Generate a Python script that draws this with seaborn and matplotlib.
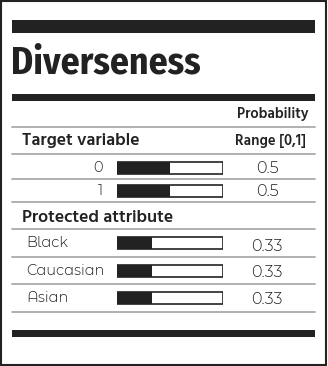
import seaborn as sns
import matplotlib.pyplot as plt
import pandas as pd
from matplotlib.patches import Rectangle

# data
title = "Diverseness"
target_labels = ["0", "1"]
target_values = [0.5, 0.5]
protected_labels = ["Black", "Caucasian", "Asian"]
protected_values = [0.33, 0.33, 0.33]

W, H = 328, 366
sns.set_style("white")
plt.rcParams['font.family'] = ['Montserrat Alternates', 'Lato', 'DejaVu Sans']
head_font = ['Hind', 'Lato', 'DejaVu Sans']
title_font = ['Fira Sans Condensed', 'Hind', 'DejaVu Sans']

fig = plt.figure(figsize=(W / 100, H / 100), dpi=100)
ax = fig.add_axes([0, 0, 1, 1])
ax.set_xlim(0, W)
ax.set_ylim(H, 0)
ax.axis('off')

# frame
ax.add_patch(Rectangle((0.8, 0.8), 325, 364, fill=False, ec='#222222', lw=1.5))

dark = '#222222'
gray = '#aaaaaa'
x0, x1 = 12, 315


def thick(y0, y1):
    ax.fill_between([x0, x1], y0, y1, color=dark, lw=0)


def thin(y):
    ax.plot([x0, x1], [y, y], color=gray, lw=1.3)


thick(20, 33)
thick(94, 101)
thick(330, 337)

ax.text(11, 63, title, fontsize=27, fontweight=700, va='center', ha='left',
        family=title_font, color=dark)

ax.text(308, 114, "Probability", fontsize=10.6, fontweight=600, ha='right', va='center',
        family=head_font, color=dark)
thin(127)
ax.text(22, 141, "Target variable", fontsize=12.8, fontweight=600, ha='left', va='center',
        family=head_font, color=dark)
ax.text(306, 141, "Range [0,1]", fontsize=10.5, fontweight=600, ha='right', va='center',
        family=head_font, color=dark)
thin(154)

bar_left, bar_w = 117, 106
lw_txt = 300

# target variable rows
t_top, t_step = 156.5, 23
for i, (lab, v) in enumerate(zip(target_labels, target_values)):
    yc = t_top + t_step * (i + 0.5)
    ax.text(103, yc, lab, fontsize=10.5, fontweight=lw_txt, ha='right', va='center', color=dark)
    ax.text(267, yc, f"{v:g}", fontsize=11.5, fontweight=lw_txt, ha='center', va='center', color=dark)
    thin(t_top + t_step * (i + 1) - 0.5)

ax.text(22, 218, "Protected attribute", fontsize=12.8, fontweight=600, ha='left', va='center',
        family=head_font, color=dark)
thin(229)

p_top, p_step = 229.5, 27.5
for i, (lab, v) in enumerate(zip(protected_labels, protected_values)):
    yc = p_top + p_step * (i + 0.5)
    ax.text(26, yc, lab, fontsize=10.5, fontweight=lw_txt, ha='left', va='center', color=dark)
    ax.text(267, yc + (3 if i == 0 else 1), f"{v:g}", fontsize=11.5, fontweight=lw_txt,
            ha='center', va='center', color=dark)
    thin(p_top + p_step * (i + 1) - 0.5)


def bars(labels, values, top, step, width):
    n = len(labels)
    bax = fig.add_axes([bar_left / W, 1 - (top + step * n) / H, bar_w / W, step * n / H])
    df = pd.DataFrame({'label': labels, 'value': values, 'full': [1.0] * n})
    sns.barplot(data=df, x='full', y='label', color='white', edgecolor=dark,
                linewidth=1.2, width=width, ax=bax)
    sns.barplot(data=df, x='value', y='label', color=dark, saturation=1,
                linewidth=0, width=width, ax=bax)
    bax.set_xlim(0, 1)
    bax.set_ylim(n - 0.5, -0.5)
    bax.axis('off')
    bax.patch.set_alpha(0)


bars(target_labels, target_values, t_top, t_step, 0.48)
bars(protected_labels, protected_values, p_top, p_step, 0.42)

fig.savefig('out.png', dpi=100)
